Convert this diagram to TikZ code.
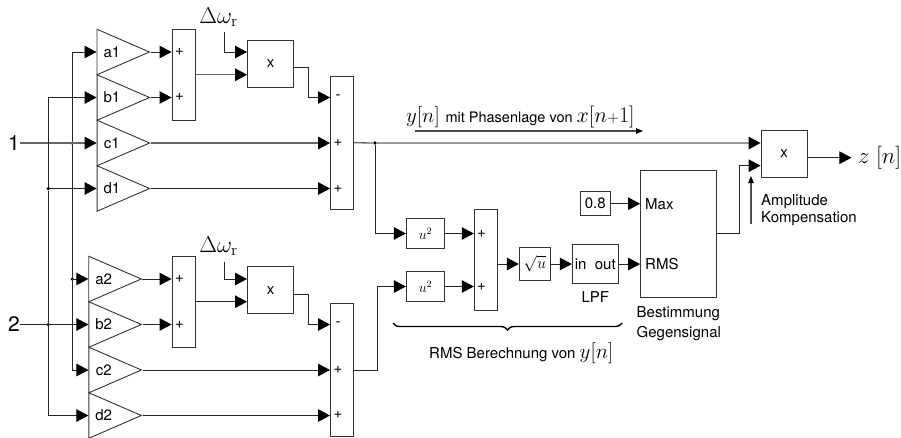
\documentclass[tikz,border=0pt]{standalone}
\usepackage{fix-cm}
\usepackage[no-math]{fontspec}
\setmainfont{TeX Gyre Heros}
\usepackage{amsmath}
\usetikzlibrary{positioning, arrows.meta, shapes.geometric, decorations.pathreplacing}
\tikzstyle{txt} = [inner sep=0pt, font=\fontsize{15}{18}\selectfont]
\tikzstyle{big} = [inner sep=0pt, font=\fontsize{21}{25}\selectfont]
\tikzstyle{gain} = [draw=black!80, line width=0.9pt, isosceles triangle, isosceles triangle stretches, minimum width=45.5pt, minimum height=52.5pt, inner sep=0pt, anchor=lower side, font=\fontsize{15}{18}\selectfont]
\tikzstyle{block} = [draw=black!80, line width=0.9pt, rectangle, inner sep=0pt, font=\fontsize{15}{18}\selectfont]
\tikzstyle{dot} = [circle, fill=black, inner sep=0pt, minimum size=3.6pt]
\tikzstyle{sig} = [->, draw=black!85, line width=0.9pt]
\tikzstyle{bus} = [->, draw=black!60, line width=1.3pt]
\tikzstyle{thin arrow} = [-{Triangle[length=7pt,width=5.5pt,black]}, draw=black!70, line width=1.1pt]

\begin{document}
\begin{tikzpicture}[x=1pt, y=-1pt, >={Triangle[length=12pt,width=12.5pt,black]}, node distance=45.5pt]
	\useasboundingbox (0,0) rectangle (901,437);

	% Inputs
	\node[big] (lone) at (14,143) {1};
	\node[big] (ltwo) at (14,324.5) {2};
	\node[dot] (jca) at (72.3,143) {};
	\node[dot] (jda) at (48.3,188.5) {};
	\node[dot] (jab) at (72.3,279) {};
	\node[dot] (jbb) at (48.3,324.5) {};

	% upper gains
	\node[gain] (a1) at (96.5,52) {a1};
	\node[gain, below of=a1] (b1) {b1};
	\node[gain, below of=b1] (c1) {c1};
	\node[gain, below of=c1] (d1) {d1};

	% lower gains
	\node[gain] (a2) at (88.3,279) {a2};
	\node[gain, below of=a2] (b2) {b2};
	\node[gain, below of=b2] (c2) {c2};
	\node[gain, below of=c2] (d2) {d2};

	% upper sums and product
	\node[block, minimum width=23pt, minimum height=90.5pt] (sua) at (183.5,74.75) {};
	\node[txt] (sua1) at (179.5,52) {+};
	\node[txt] (sua2) at (179.5,97) {+};
	\node[block, minimum width=46pt, minimum height=47pt] (mula) at (270.5,63.5) {x};
	\node[big, font=\fontsize{23}{25}\selectfont] (dwa) at (218.5,17) {$\Delta\omega_{\mathrm{r}}$};
	\coordinate (dwaend) at (224.5,32);
	\node[block, minimum width=23pt, minimum height=132.5pt] (sub) at (342,142.75) {};
	\node[txt] (sub1) at (338,97) {-};
	\node[txt] (sub2) at (338,143) {+};
	\node[txt] (sub3) at (338,188.5) {+};

	% lower sums and product
	\node[block, minimum width=23pt, minimum height=91pt] (suc) at (183.5,301.7) {};
	\node[txt] (suc1) at (179.5,279) {+};
	\node[txt] (suc2) at (179.5,324.5) {+};
	\node[block, minimum width=46pt, minimum height=47pt] (mulb) at (270.5,290.2) {x};
	\node[big, font=\fontsize{23}{25}\selectfont] (dwb) at (218.5,246) {$\Delta\omega_{\mathrm{r}}$};
	\coordinate (dwbend) at (224.5,262);
	\node[block, minimum width=23pt, minimum height=133.4pt] (sud) at (342,370) {};
	\node[txt] (sud1) at (338,324.5) {-};
	\node[txt] (sud2) at (338,370) {+};
	\node[txt] (sud3) at (338,415) {+};

	% RMS chain
	\node[dot] (jout) at (375,143) {};
	\node[block, minimum width=38.4pt, minimum height=30.4pt, font=\fontsize{14}{15}\selectfont] (sqa) at (425.5,233.5) {$u^2$};
	\node[block, minimum width=38.4pt, minimum height=30.4pt, font=\fontsize{14}{15}\selectfont] (sqb) at (425.5,286.5) {$u^2$};
	\node[block, minimum width=23pt, minimum height=101.4pt] (sue) at (485.8,260) {};
	\node[txt] (sue1) at (481.5,233.5) {+};
	\node[txt] (sue2) at (481.5,286.5) {+};
	\node[block, minimum width=31pt, minimum height=33.4pt, font=\fontsize{16}{18}\selectfont] (root) at (534.8,264) {$\sqrt{u}$};
	\node[block, minimum width=46pt, minimum height=39.4pt] (lpf) at (595.3,264) {in\ \ out};
	\node[txt, below=7pt of lpf] (lpftxt) {LPF};
	\node[block, minimum width=30.7pt, minimum height=24pt] (const) at (595.3,203.7) {0.8};

	% Gegensignal and output
	\node[block, minimum width=75.5pt, minimum height=127pt] (best) at (678.3,233.5) {};
	\node[txt, anchor=west] (bmax) at (645,203.7) {Max};
	\node[txt, anchor=west] (brms) at (645,264) {RMS};
	\node[txt, anchor=north west, align=left, font=\fontsize{15}{20}\selectfont] (besttxt) at (636.5,306) {Bestimmung\\Gegensignal};
	\node[block, minimum width=46pt, minimum height=47pt] (mulc) at (784,154) {x};
	\coordinate (mulcb) at ([yshift=-11.7pt]mulc.west);
	\node[big, anchor=west, font=\fontsize{23}{25}\selectfont] (zout) at (858,157.7) {$z\;[n]$};
	\node[txt, anchor=north west, align=left, font=\fontsize{15}{17}\selectfont] (amptxt) at (761,194.5) {Amplitude\\Kompensation};
	\coordinate (ampa) at (751,224);
	\coordinate (ampb) at (751,176);

	% annotations
	\node[txt, anchor=west] (ytxt) at (406,117) {\fontsize{21}{25}\selectfont$y[n]$\ \fontsize{14.5}{18}\selectfont mit Phasenlage von \fontsize{22}{25}\selectfont$x[n{\scriptstyle+}1]$};
	\coordinate (ya) at (415,131);
	\coordinate (yb) at (643,131);
	\coordinate (bra) at (393,323);
	\coordinate (brb) at (622,323);
	\node[txt, anchor=west] (rmstxt) at (429,353) {RMS Berechnung von \fontsize{21}{25}\selectfont$y[n]$};

	% connections
	\draw [bus] (lone) -- (c1.lower side);
	\draw [sig] (ltwo) -- (b2.lower side);
	\draw [sig] (jca) |- (a1.lower side);
	\draw [sig] (jca) |- (c2.lower side);
	\draw [sig] (jab) -- (a2.lower side);
	\draw [sig] (jda) |- (b1.lower side);
	\draw [sig] (jda) -- (d1.lower side);
	\draw [sig] (jda) |- (d2.lower side);

	\draw [sig] (a1.apex) -- (a1.apex -| sua.west);
	\draw [sig] (b1.apex) -- (b1.apex -| sua.west);
	\draw [bus] (c1.apex) -- (c1.apex -| sub.west);
	\draw [sig] (d1.apex) -- (d1.apex -| sub.west);
	\draw [sig] (dwaend) |- (a1.apex -| mula.west);
	\draw [bus] (sua.east) -- (sua.east -| mula.west);
	\draw [sig] ([yshift=-4pt]mula.east) -- ++(14.5,0) |- (b1.apex -| sub.west);

	\draw [sig] (a2.apex) -- (a2.apex -| suc.west);
	\draw [sig] (b2.apex) -- (b2.apex -| suc.west);
	\draw [sig] (c2.apex) -- (c2.apex -| sud.west);
	\draw [sig] (d2.apex) -- (d2.apex -| sud.west);
	\draw [sig] (dwbend) |- (a2.apex -| mulb.west);
	\draw [sig] (suc.east) -- (suc.east -| mulb.west);
	\draw [sig] ([yshift=-4pt]mulb.east) -- ++(14.5,0) |- (b2.apex -| sud.west);

	\draw [bus] (sub.east) -- (jout) -- (jout -| mulc.west);
	\draw [sig] (jout) |- (sqa.west);
	\draw [sig] (sud.east) -- ++(23,0) |- (sqb.west);
	\draw [sig] (sqa.east) -- (sqa.east -| sue.west);
	\draw [sig] (sqb.east) -- (sqb.east -| sue.west);
	\draw [sig] (root.west -| sue.east) -- (root.west);
	\draw [sig] (root) -- (lpf);
	\draw [sig] (lpf.east) -- (lpf.east -| best.west);
	\draw [sig] (const) -- (const -| best.west);
	\draw [sig] (best.east) -- ++(23,0) |- (mulcb);
	\draw [sig] ([yshift=-3.7pt]mulc.east) -- ++(44,0);

	\draw [thin arrow] (ampa) -- (ampb);
	\draw [thin arrow] (ya) -- (yb);
	\draw [line width=1.4pt, decorate, decoration={brace, mirror, amplitude=7pt}] (bra) -- (brb);

\end{tikzpicture}
\end{document}
